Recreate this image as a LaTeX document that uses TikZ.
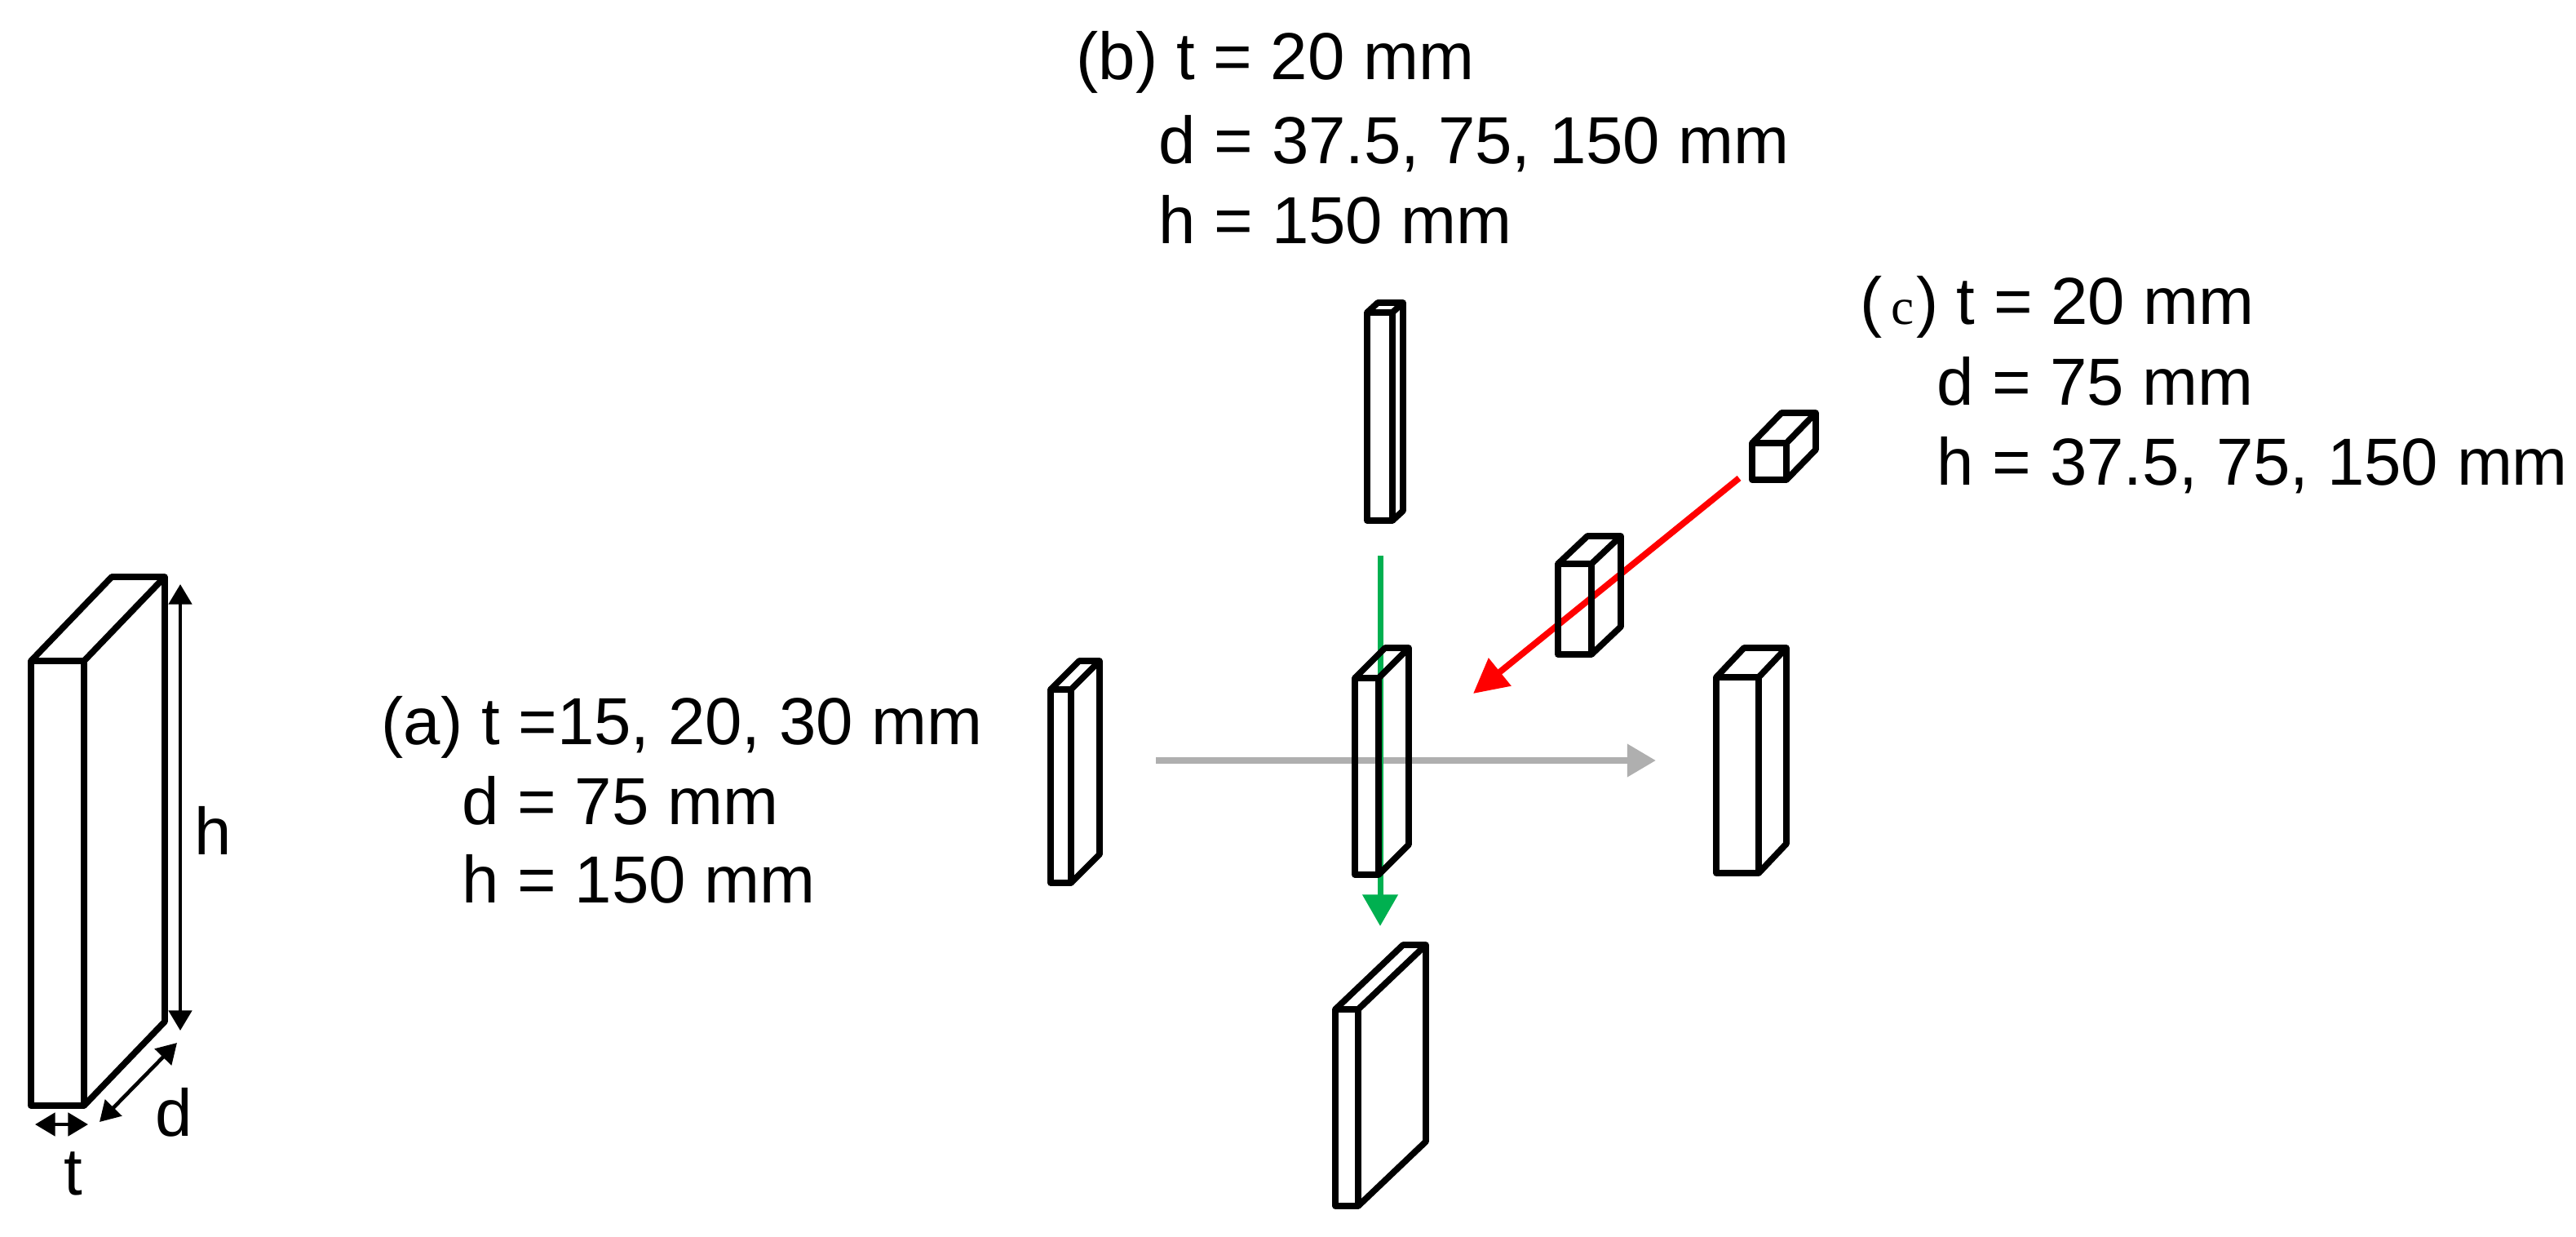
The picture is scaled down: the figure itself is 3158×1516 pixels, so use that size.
\documentclass[tikz,border=0pt]{standalone}
\usepackage{fontspec}
\setmainfont{Liberation Sans}
\newfontfamily\seriffont{Liberation Serif}
\usetikzlibrary{arrows.meta}
\tikzset{
  slab/.style={draw=black,line width=2.2pt,line join=round},
  lbl/.style={anchor=base west,inner sep=0pt,font=\fontsize{23.2}{27}\selectfont},
  dim/.style={line width=1.3pt,{Triangle[length=7pt,width=8pt]}-{Triangle[length=7pt,width=8pt]}}
}
% front top left x, y, width, height, depth dx, dy
\newcommand{\slabbox}[7][slab]{
  \draw[#1] (#2,#3) rectangle ++(#4,#5);
  \draw[#1] (#2,#3) -- ++(#6,-#7) -- ++(#4,0) -- ++(0,#5) -- ++(-#6,#7);
  \draw[#1] (#2+#4,#3) -- ++(#6,-#7);
}
\begin{document}
\begin{tikzpicture}[x=0.01cm,y=-0.01cm]
\useasboundingbox (0,0) rectangle (3158,1516);

% arrow ends
\coordinate (grayA) at (1417,932);
\coordinate (grayB) at (2030,932);
\coordinate (greenA) at (1692,681);
\coordinate (greenB) at (1692,1135);
\coordinate (redA) at (2132,586);
\coordinate (redB) at (1806,850);
\draw[color={rgb,255:red,175;green,175;blue,175},line width=2.3pt,-{Triangle[length=10pt,width=11pt]}] (grayA) -- (grayB);
\draw[color={rgb,255:red,0;green,176;blue,80},line width=2pt,-{Triangle[length=11pt,width=12pt]}] (greenA) -- (greenB);
\draw[color=red,line width=2.2pt,-{Triangle[length=12pt,width=12pt]}] (redA) -- (redB);

% the slabs
\slabbox{38}{810}{65}{545}{99}{103}
\slabbox{1676}{383}{31}{255}{13}{12}
\slabbox{1288}{845}{25}{237}{35}{35}
\slabbox{1661}{831}{29}{241}{37}{37}
\slabbox{1910}{691}{41}{111}{36}{34}
\slabbox{2148}{543}{42}{45}{36}{37}
\slabbox{2104}{830}{52}{240}{34}{36}
\slabbox{1637}{1237}{28}{241}{83}{79}

% dimensions
\coordinate (hA) at (221,716);
\coordinate (hB) at (221,1263);
\coordinate (dA) at (217,1278);
\coordinate (dB) at (122,1375);
\coordinate (tA) at (43,1378);
\coordinate (tB) at (108,1378);
\draw[dim] (hA) -- (hB);
\draw[dim] (dA) -- (dB);
\draw[dim] (tA) -- (tB);
\node[lbl] (hlabel) at (238,1047) {h};
\node[lbl] (dlabel) at (190,1392) {d};
\node[lbl] (tlabel) at (78,1464) {t};

% case (a)
\node[lbl] (a1) at (467,912) {(a) t =15, 20, 30 mm};
\node[lbl] (a2) at (566,1010) {d = 75 mm};
\node[lbl] (a3) at (566,1106) {h = 150 mm};
% case (b)
\node[lbl] (b1) at (1319,98) {(b) t = 20 mm};
\node[lbl] (b2) at (1420,201) {d = 37.5, 75, 150 mm};
\node[lbl] (b3) at (1420,299) {h = 150 mm};
% case (c)
\node[lbl] (c1) at (2280,398) {(\hspace{3pt}{\seriffont\fontsize{18}{20}\selectfont c}\hspace{0.7pt}) t = 20 mm};
\node[lbl] (c2) at (2374,497) {d = 75 mm};
\node[lbl] (c3) at (2374,595) {h = 37.5, 75, 150 mm};
\end{tikzpicture}
\end{document}
